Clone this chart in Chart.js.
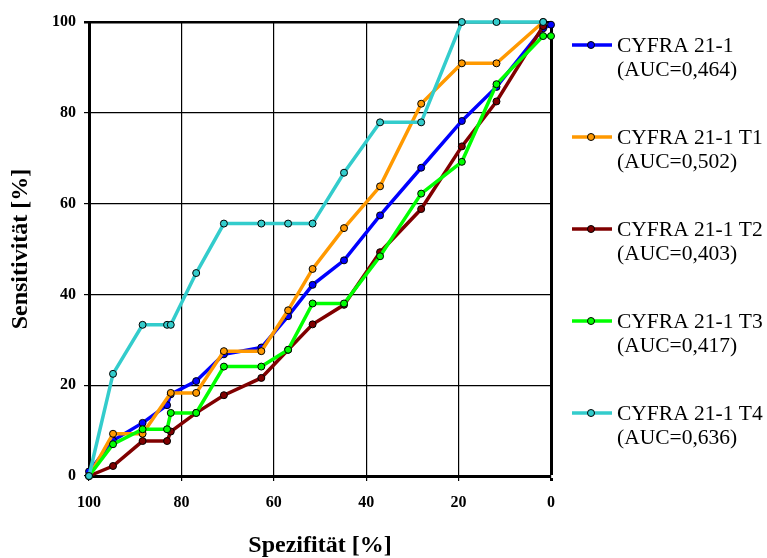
<!DOCTYPE html>
<html>
<head>
<meta charset="utf-8">
<script src="https://cdn.jsdelivr.net/npm/chart.js@4/dist/chart.umd.min.js"></script>
<style>
  html, body { margin: 0; padding: 0; background: #fff; }
  #wrap { position: relative; width: 767px; height: 558px; }
</style>
</head>
<body>
<div id="wrap"><canvas id="c" width="767" height="558"></canvas></div>
<script>
// ---- data ----
const seriesNames = ['CYFRA 21-1', 'CYFRA 21-1 T1', 'CYFRA 21-1 T2', 'CYFRA 21-1 T3', 'CYFRA 21-1 T4'];
const aucLabels = ['(AUC=0,464)', '(AUC=0,502)', '(AUC=0,403)', '(AUC=0,417)', '(AUC=0,636)'];
const xTicks = [100, 80, 60, 40, 20, 0];
const yTicks = [0, 20, 40, 60, 80, 100];

const specBase = [100, 94.8, 88.4, 83.1, 82.3, 76.8, 70.8, 62.7, 56.9, 51.6, 44.8, 37.0, 28.1, 19.3, 11.8, 1.7, 0];
const sensBase = [1.0, 7.8, 11.7, 15.6, 18.0, 20.9, 26.8, 28.3, 35.2, 42.1, 47.5, 57.4, 67.9, 78.2, 85.7, 98.6, 99.4];

const specT1 = [100, 94.8, 88.4, 82.3, 76.8, 70.8, 62.7, 56.9, 51.6, 44.8, 37.0, 28.1, 19.3, 11.8, 1.7];
const sensT1 = [0, 9.3, 9.3, 18.3, 18.3, 27.5, 27.5, 36.5, 45.6, 54.6, 63.8, 82.0, 90.9, 90.9, 100];

const specT2 = [100, 94.8, 88.4, 83.1, 82.3, 76.8, 70.8, 62.7, 56.9, 51.6, 44.8, 37.0, 28.1, 19.3, 11.8, 1.7];
const sensT2 = [0, 2.2, 7.7, 7.7, 9.8, 13.9, 17.8, 21.6, 27.8, 33.4, 37.7, 49.3, 58.8, 72.6, 82.5, 99.1];

const specT3 = [100, 94.8, 88.4, 83.1, 82.3, 76.8, 70.8, 62.7, 56.9, 51.6, 44.8, 37.0, 28.1, 19.3, 11.8, 1.7, 0];
const sensT3 = [0, 7.0, 10.3, 10.3, 13.9, 13.9, 24.1, 24.1, 27.8, 38.0, 38.0, 48.4, 62.2, 69.2, 86.3, 96.9, 96.9];

const specT4 = [100, 94.8, 88.4, 83.1, 82.3, 76.8, 70.8, 62.7, 56.9, 51.6, 44.8, 37.0, 28.1, 19.3, 11.8, 1.7];
const sensT4 = [0, 22.5, 33.3, 33.3, 33.3, 44.7, 55.6, 55.6, 55.6, 55.6, 66.8, 77.9, 77.9, 100, 100, 100];

const colors = ['#0000FF', '#FF9900', '#800000', '#00FF00', '#33CCCC'];

// ---- build ----
const specs = [specBase, specT1, specT2, specT3, specT4];
const senss = [sensBase, sensT1, sensT2, sensT3, sensT4];
const drawOrder = [5, 4, 3, 2, 1];

const datasets = seriesNames.map((name, i) => ({
  label: name,
  data: specs[i].map((x, k) => ({ x: x, y: senss[i][k] })),
  borderColor: colors[i],
  backgroundColor: colors[i],
  pointBackgroundColor: colors[i],
  pointBorderColor: '#000',
  pointBorderWidth: 1,
  pointRadius: 3.5,
  borderWidth: 3.5,
  tension: 0,
  clip: false,
  order: drawOrder[i]
}));

const serif = "'Liberation Serif', 'Times New Roman', serif";

const legendPlugin = {
  id: 'sideLegend',
  afterDraw(chart) {
    const ctx = chart.ctx;
    ctx.save();
    chart.data.datasets.forEach((ds, i) => {
      const y = 45 + i * 92;
      ctx.strokeStyle = ds.borderColor;
      ctx.lineWidth = 3.5;
      ctx.beginPath();
      ctx.moveTo(572, y);
      ctx.lineTo(612, y);
      ctx.stroke();
      ctx.beginPath();
      ctx.arc(591, y, 3.5, 0, Math.PI * 2);
      ctx.fillStyle = ds.borderColor;
      ctx.fill();
      ctx.lineWidth = 1;
      ctx.strokeStyle = '#000';
      ctx.stroke();
      ctx.fillStyle = '#000';
      ctx.font = "21.5px " + serif;
      ctx.textBaseline = 'middle';
      ctx.textAlign = 'left';
      ctx.fillText(seriesNames[i], 617, y + 1);
      ctx.fillText(aucLabels[i], 617, y + 25);
    });
    ctx.restore();
  }
};

new Chart(document.getElementById('c'), {
  type: 'line',
  data: { datasets: datasets },
  plugins: [legendPlugin],
  options: {
    responsive: false,
    animation: false,
    events: [],
    layout: { padding: { top: 22, right: 216, left: 0, bottom: 0 } },
    plugins: { legend: { display: false }, tooltip: { enabled: false } },
    scales: {
      x: {
        type: 'linear',
        reverse: true,
        min: 0, max: 100,
        afterFit(scale) { scale.height = 82; },
        afterBuildTicks(scale) { scale.ticks = xTicks.map(v => ({ value: v })); },
        ticks: {
          color: '#000',
          padding: 12,
          maxRotation: 0,
          font: { family: serif, size: 16, weight: 'bold' },
          callback: v => String(v)
        },
        grid: {
          color: '#000',
          lineWidth: ctx => (ctx.tick && ctx.tick.value === 0 ? 3 : 1.2),
          tickLength: 5,
          drawTicks: true
        },
        border: { display: true, color: '#000', width: 3 },
        title: {
          display: true,
          text: 'Spezifität [%]',
          color: '#000',
          font: { family: serif, size: 24, weight: 'bold', lineHeight: 1 },
          padding: { top: 0, bottom: 0 }
        }
      },
      y: {
        type: 'linear',
        min: 0, max: 100,
        afterFit(scale) { scale.width = 89; },
        afterBuildTicks(scale) { scale.ticks = yTicks.map(v => ({ value: v })); },
        ticks: {
          color: '#000',
          padding: 8,
          font: { family: serif, size: 16, weight: 'bold' },
          callback: v => String(v)
        },
        grid: {
          color: '#000',
          lineWidth: ctx => (ctx.tick && ctx.tick.value === 100 ? 2.5 : 1.2),
          tickLength: 5,
          drawTicks: true
        },
        border: { display: true, color: '#000', width: 3 },
        title: {
          display: true,
          text: 'Sensitivität [%]',
          color: '#000',
          font: { family: serif, size: 24, weight: 'bold', lineHeight: 1 },
          padding: { top: 9, bottom: 0 }
        }
      }
    }
  }
});
</script>
</body>
</html>
